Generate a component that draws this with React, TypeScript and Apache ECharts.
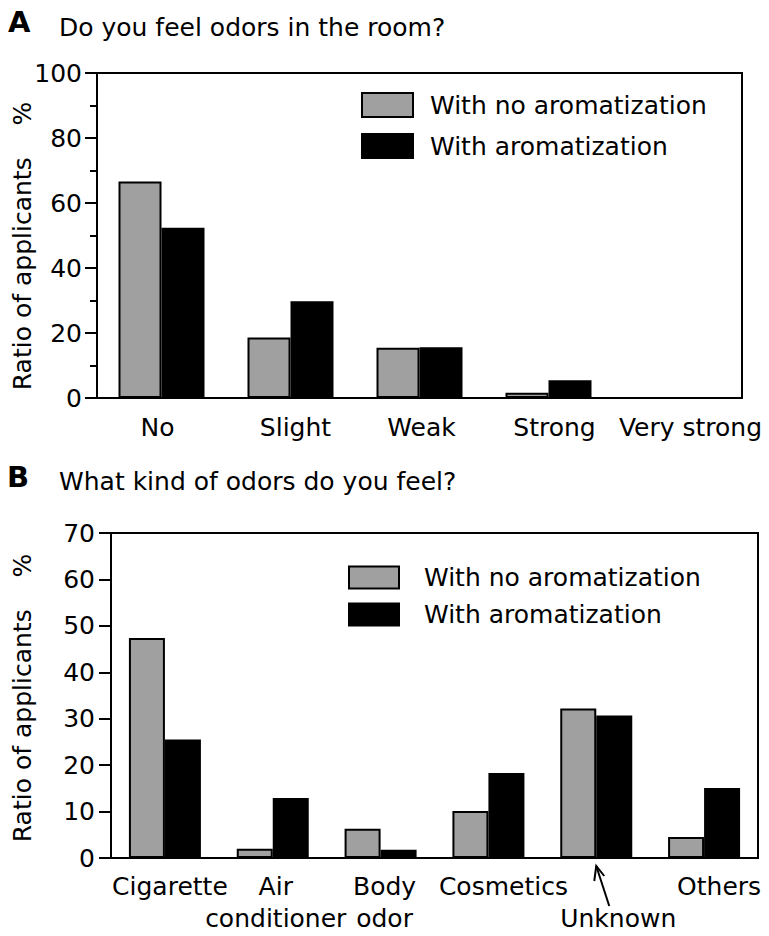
import React, { useEffect, useRef } from "react";
import * as echarts from "echarts";

// ---- Data ----
const categoriesA = ["No", "Slight", "Weak", "Strong", "Very strong"];
const noAromaA = [66.6, 18.6, 15.5, 1.6, 0];
const aromaA = [52.4, 29.8, 15.6, 5.5, 0];

const categoriesB = ["Cigarette", "Air\nconditioner", "Body\nodor", "Cosmetics", "Unknown", "Others"];
const noAromaB = [47.4, 2.0, 6.3, 10.1, 32.2, 4.5];
const aromaB = [25.5, 12.9, 1.8, 18.3, 30.7, 15.1];

const seriesNames = ["With no aromatization", "With aromatization"];
const titleA = "Do you feel odors in the room?";
const titleB = "What kind of odors do you feel?";
const yAxisTitle = "Ratio of applicants    %";

// ---- Styling ----
const FONT = "'DejaVu Sans', sans-serif";
const GRAY = "#a0a0a0";
const BLACK = "#000000";

// horizontal label offsets (px) so labels sit like in the original figure
const offsetsA: Record<string, number> = { No: -4, Slight: 5, Weak: 2, Strong: 6, "Very strong": 13 };
const offsetsB: Record<string, number> = {
  Cigarette: 5,
  "Air\nconditioner": 3,
  "Body\nodor": 4,
  Cosmetics: 15,
  Unknown: 22,
  Others: 15,
};

function catData(cats: string[], offs: Record<string, number>) {
  return cats.map((c) => {
    const o = offs[c] || 0;
    const pad = o >= 0 ? [0, 0, 0, o * 2] : [0, -o * 2, 0, 0];
    return { value: c, textStyle: { padding: pad } };
  });
}

export default function App() {
  const ref = useRef<HTMLDivElement>(null);

  useEffect(() => {
    if (!ref.current) return;
    const chart = echarts.init(ref.current, undefined, { renderer: "svg" });

    const axisLineStyle = { color: BLACK, width: 2 };
    const labelStyle = { color: BLACK, fontSize: 25, fontFamily: FONT };
    const barBorder = { borderColor: BLACK, borderWidth: 2 };

    const option: any = {
      animation: false,
      backgroundColor: "#ffffff",
      grid: [
        { left: 97, top: 73, width: 645, height: 325, show: true, borderColor: BLACK, borderWidth: 2 },
        { left: 111, top: 533, width: 647, height: 325, show: true, borderColor: BLACK, borderWidth: 2 },
      ],
      xAxis: [
        {
          type: "category",
          gridIndex: 0,
          data: catData(categoriesA, offsetsA),
          axisLine: { lineStyle: axisLineStyle },
          axisTick: { alignWithLabel: true, length: 9, lineStyle: axisLineStyle },
          axisLabel: { ...labelStyle, margin: 13, lineHeight: 32, interval: 0 },
        },
        {
          type: "category",
          gridIndex: 1,
          data: catData(categoriesB, offsetsB),
          axisLine: { lineStyle: axisLineStyle },
          axisTick: { alignWithLabel: true, length: 9, lineStyle: axisLineStyle },
          axisLabel: {
            ...labelStyle,
            margin: 12,
            lineHeight: 32,
            interval: 0,
            formatter: (v: string) => (v === "Unknown" ? "\nUnknown" : v),
          },
        },
      ],
      yAxis: [
        {
          type: "value",
          gridIndex: 0,
          min: 0,
          max: 100,
          interval: 20,
          axisLine: { show: true, lineStyle: axisLineStyle },
          axisTick: { show: true, length: 12, lineStyle: axisLineStyle },
          minorTick: { show: true, splitNumber: 2, length: 7, lineStyle: axisLineStyle },
          splitLine: { show: false },
          minorSplitLine: { show: false },
          axisLabel: { ...labelStyle, margin: 15 },
        },
        {
          type: "value",
          gridIndex: 1,
          min: 0,
          max: 70,
          interval: 10,
          axisLine: { show: true, lineStyle: axisLineStyle },
          axisTick: { show: true, length: 12, lineStyle: axisLineStyle },
          splitLine: { show: false },
          axisLabel: { ...labelStyle, margin: 16 },
        },
      ],
      legend: [
        {
          data: seriesNames,
          orient: "vertical",
          left: 361,
          top: 92,
          padding: 0,
          itemWidth: 51,
          itemHeight: 24,
          itemGap: 15,
          icon: "rect",
          selectedMode: false,
          textStyle: { ...labelStyle, lineHeight: 25, padding: [0, 0, 0, 12] },
        },
        {
          data: seriesNames,
          orient: "vertical",
          left: 348,
          top: 565,
          padding: 0,
          itemWidth: 50,
          itemHeight: 22,
          itemGap: 12,
          icon: "rect",
          selectedMode: false,
          textStyle: { ...labelStyle, lineHeight: 25, padding: [0, 0, 0, 20] },
        },
      ],
      series: [
        {
          name: seriesNames[0],
          type: "bar",
          xAxisIndex: 0,
          yAxisIndex: 0,
          data: noAromaA,
          barWidth: 43,
          barGap: "0%",
          itemStyle: { color: GRAY, ...barBorder },
        },
        {
          name: seriesNames[1],
          type: "bar",
          xAxisIndex: 0,
          yAxisIndex: 0,
          data: aromaA,
          barWidth: 43,
          barGap: "0%",
          itemStyle: { color: BLACK, ...barBorder },
        },
        {
          name: seriesNames[0],
          type: "bar",
          xAxisIndex: 1,
          yAxisIndex: 1,
          data: noAromaB,
          barWidth: 36,
          barGap: "0%",
          itemStyle: { color: GRAY, ...barBorder },
        },
        {
          name: seriesNames[1],
          type: "bar",
          xAxisIndex: 1,
          yAxisIndex: 1,
          data: aromaB,
          barWidth: 36,
          barGap: "0%",
          itemStyle: { color: BLACK, ...barBorder },
        },
      ],
    };

    chart.setOption(option);

    // annotation arrow pointing at the "Unknown" tick
    const ux = chart.convertToPixel({ xAxisIndex: 1 }, "Unknown") as number;
    const uy = chart.convertToPixel({ yAxisIndex: 1 }, 0) as number;
    const tip = [ux, uy + 8];
    const arrowStyle = { stroke: BLACK, lineWidth: 2, fill: "none" };

    chart.setOption({
      graphic: [
        {
          type: "text",
          x: 8,
          y: 22,
          style: { text: "A", fontSize: 29, fontWeight: "bold", fontFamily: FONT, fill: BLACK, textVerticalAlign: "middle" },
        },
        {
          type: "text",
          x: 59,
          y: 27,
          style: { text: titleA, fontSize: 25, fontFamily: FONT, fill: BLACK, textVerticalAlign: "middle" },
        },
        {
          type: "text",
          x: 7,
          y: 477,
          style: { text: "B", fontSize: 29, fontWeight: "bold", fontFamily: FONT, fill: BLACK, textVerticalAlign: "middle" },
        },
        {
          type: "text",
          x: 59,
          y: 481,
          style: { text: titleB, fontSize: 25, fontFamily: FONT, fill: BLACK, textVerticalAlign: "middle" },
        },
        {
          type: "text",
          x: 22,
          y: 246,
          rotation: Math.PI / 2,
          style: {
            text: yAxisTitle,
            fontSize: 25,
            fontFamily: FONT,
            fill: BLACK,
            textAlign: "center",
            textVerticalAlign: "middle",
          },
        },
        {
          type: "text",
          x: 22,
          y: 698,
          rotation: Math.PI / 2,
          style: {
            text: yAxisTitle,
            fontSize: 25,
            fontFamily: FONT,
            fill: BLACK,
            textAlign: "center",
            textVerticalAlign: "middle",
          },
        },
        {
          type: "polyline",
          shape: { points: [tip, [ux + 13, uy + 48]] },
          style: arrowStyle,
        },
        {
          type: "polyline",
          shape: { points: [[ux - 2, uy + 23], tip, [ux + 8, uy + 18]] },
          style: arrowStyle,
        },
      ],
    });

    return () => chart.dispose();
  }, []);

  return <div ref={ref} style={{ position: "absolute", left: 0, top: 0, width: 769, height: 936 }} />;
}
